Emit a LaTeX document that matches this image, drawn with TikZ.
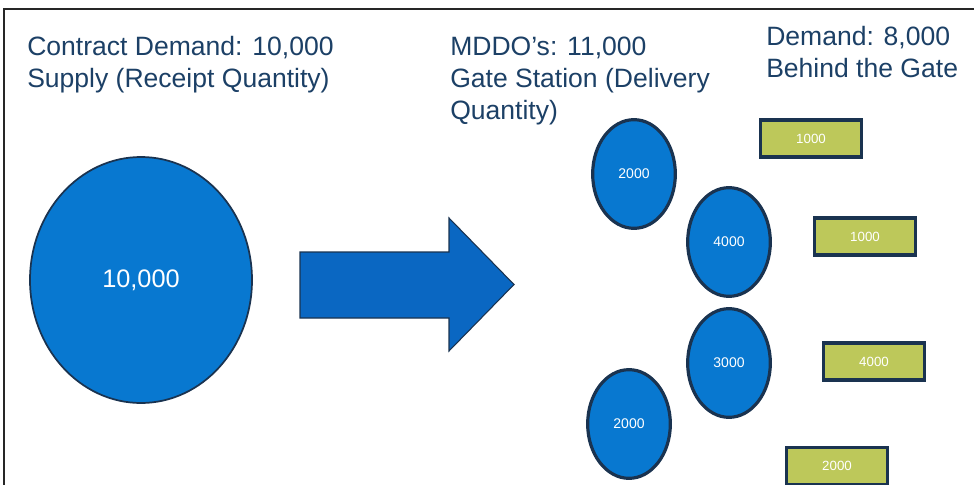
\documentclass[tikz,border=0pt]{standalone}
\usepackage{fontspec}
\setmainfont{Liberation Sans}
\usetikzlibrary{shapes.geometric}
\definecolor{navy}{HTML}{1A3350}
\definecolor{txtblue}{HTML}{1C4066}
\definecolor{blobblue}{HTML}{0878D0}
\definecolor{arrowblue}{HTML}{0A67C2}
\definecolor{olive}{HTML}{BDC85A}
\tikzset{
  heading/.style={anchor=base west, inner sep=0pt, text=txtblue, font=\fontsize{19.9pt}{24pt}\selectfont},
  blob/.style={ellipse, fill=blobblue, draw=navy, line width=2.4pt, text=white, inner sep=0pt,
    minimum width=62pt, minimum height=81.5pt, font=\fontsize{10.5pt}{12pt}\selectfont},
  bigblob/.style={blob, line width=1.3pt, minimum width=166.5pt, minimum height=184.5pt, font=\fontsize{19pt}{22pt}\selectfont},
  gatebox/.style={rectangle, fill=olive, draw=navy, line width=2.6pt, text=white, inner sep=0pt,
    minimum width=76pt, minimum height=28pt, font=\fontsize{10pt}{12pt}\selectfont},
}
\begin{document}
\begin{tikzpicture}[x=0.75pt,y=-0.75pt]
\useasboundingbox (0,0) rectangle (974,485);
\fill[white] (0,0) rectangle (974,485);
\draw[line width=1.4pt, black!85] (4,485) -- (4,9) -- (974,9);

% headings
\node[heading] (h1) at (27,56) {Contract Demand: 10,000};
\node[heading] (h2) at (27,88) {Supply (Receipt Quantity)};
\node[heading] (m1) at (450,56) {MDDO’s: 11,000};
\node[heading] (m2) at (450,88) {Gate Station (Delivery};
\node[heading] (m3) at (450,119) {Quantity)};
\node[heading] (d1) at (766,46) {Demand: 8,000};
\node[heading] (d2) at (766,78) {Behind the Gate};

% supply
\node[bigblob] (supply) at (141,280) {10,000};

% big arrow
\draw[fill=arrowblue, draw=navy, line width=0.8pt, line join=miter]
  (300,252) -- (449,252) -- (449,218) -- (514,284.5) -- (449,351) -- (449,318) -- (300,318) -- cycle;

% gate stations
\node[blob] (g1) at (634,174) {2000};
\node[blob] (g2) at (729,242) {4000};
\node[blob] (g3) at (729,363) {3000};
\node[blob] (g4) at (629,424) {2000};

% behind the gate
\node[gatebox] (b1) at (811,138.5) {1000};
\node[gatebox] (b2) at (865,236.5) {1000};
\node[gatebox] (b3) at (874,361.5) {4000};
\node[gatebox] (b4) at (837,466) {2000};
\end{tikzpicture}
\end{document}
